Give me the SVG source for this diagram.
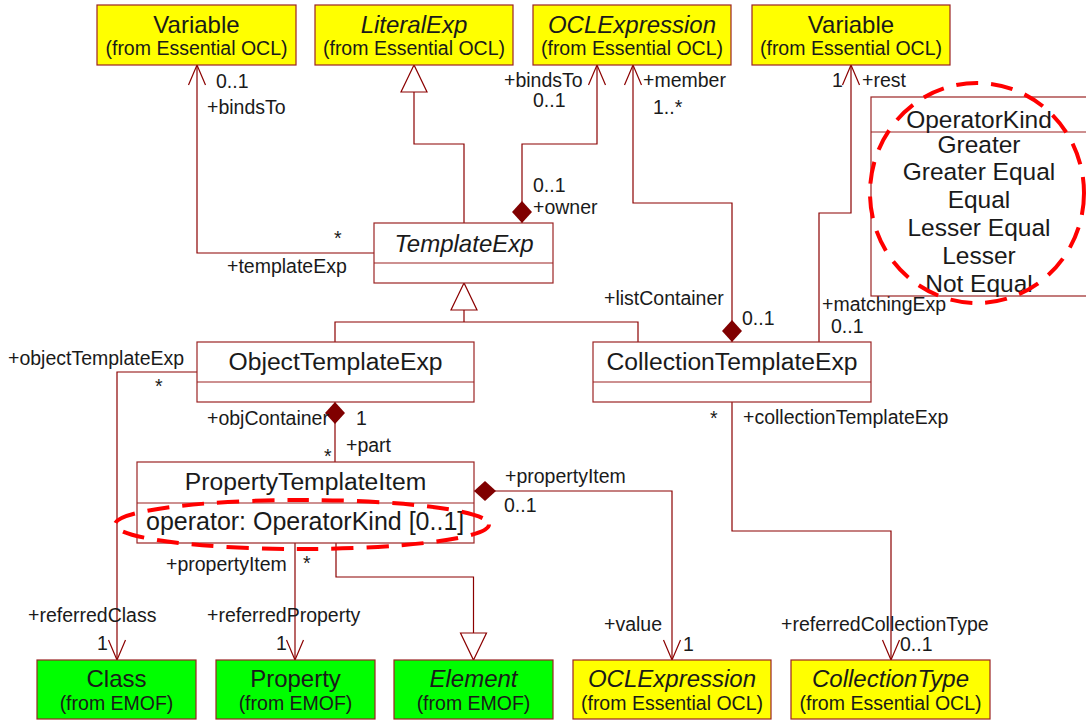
<svg xmlns="http://www.w3.org/2000/svg" width="1086" height="720" viewBox="0 0 1086 720">
<style>
.box{stroke:#9b2323;stroke-width:1.2}
.y{fill:#ffff00}
.g{fill:#00ff00}
.w{fill:#ffffff}
.ln{fill:none;stroke:#8b0000;stroke-width:1.2}
.nm{font-family:"Liberation Sans",Arial,sans-serif;font-size:24px;fill:#1a1a1a;text-anchor:middle}
.cn{font-size:24.7px}
.it{font-style:italic}
.fr{font-size:19.5px}
.lit{font-size:24.5px}
.lb{font-family:"Liberation Sans",Arial,sans-serif;font-size:19.5px;fill:#1a1a1a}
.red{fill:none;stroke:#ff0000;stroke-width:4;stroke-dasharray:22 13}
</style>
<defs>
<marker id="open" markerUnits="userSpaceOnUse" markerWidth="30" markerHeight="30" viewBox="-25 -15 30 30" refX="0" refY="0" orient="auto" overflow="visible">
<path d="M-20,-8.5 L0,0 L-20,8.5" fill="none" stroke="#8b0000" stroke-width="1.2"/>
</marker>
<marker id="tri" markerUnits="userSpaceOnUse" markerWidth="40" markerHeight="40" viewBox="-30 -20 40 40" refX="0" refY="0" orient="auto" overflow="visible">
<path d="M0,0 L-27,-13 L-27,13 Z" fill="#ffffff" stroke="#8b0000" stroke-width="1.2"/>
</marker>
<marker id="dia" markerUnits="userSpaceOnUse" markerWidth="30" markerHeight="30" viewBox="-2 -15 30 30" refX="0" refY="0" orient="auto" overflow="visible">
<path d="M0,0 L11,-10 L22,0 L11,10 Z" fill="#800000"/>
</marker>
</defs>
<rect width="1086" height="720" fill="#ffffff"/>

<g id="connectors">
<path class="ln" d="M375,253 H197 V65" marker-end="url(#open)"/>
<path class="ln" d="M464,223 V144 H414 V65" marker-end="url(#tri)"/>
<path class="ln" d="M522,223 V144 H597 V65" marker-start="url(#dia)" marker-end="url(#open)"/>
<path class="ln" d="M732,342 V203 H633 V65" marker-start="url(#dia)" marker-end="url(#open)"/>
<path class="ln" d="M819,342 V213 H851 V65" marker-end="url(#open)"/>
<path class="ln" d="M335,342 V322 H638 V342"/>
<path class="ln" d="M464,322 V283" marker-end="url(#tri)"/>
<path class="ln" d="M197,372 H117 V660" marker-end="url(#open)"/>
<path class="ln" d="M335,402 V462" marker-start="url(#dia)"/>
<path class="ln" d="M474,491 H672 V660" marker-start="url(#dia)" marker-end="url(#open)"/>
<path class="ln" d="M732,402 V531 H891 V660" marker-end="url(#open)"/>
<path class="ln" d="M295,543 V660" marker-end="url(#open)"/>
<path class="ln" d="M336,543 V577 H473.5 V660" marker-end="url(#tri)"/>
</g>

<g id="labels">
<text class="lb" x="216" y="88">0..1</text>
<text class="lb" x="207" y="114">+bindsTo</text>
<text class="lb" x="334" y="245">*</text>
<text class="lb" x="227" y="273">+templateExp</text>
<text class="lb" x="504" y="87">+bindsTo</text>
<text class="lb" x="533" y="107">0..1</text>
<text class="lb" x="533" y="192">0..1</text>
<text class="lb" x="533" y="214">+owner</text>
<text class="lb" x="643" y="87">+member</text>
<text class="lb" x="653" y="114">1..*</text>
<text class="lb" x="832" y="87">1</text>
<text class="lb" x="862" y="87">+rest</text>
<text class="lb" x="604" y="305">+listContainer</text>
<text class="lb" x="742" y="325">0..1</text>
<text class="lb" x="822" y="311">+matchingExp</text>
<text class="lb" x="831" y="333">0..1</text>
<text class="lb" x="8" y="365">+objectTemplateExp</text>
<text class="lb" x="155" y="393">*</text>
<text class="lb" x="207" y="425">+objContainer</text>
<text class="lb" x="356" y="425">1</text>
<text class="lb" x="346" y="452">+part</text>
<text class="lb" x="324" y="463">*</text>
<text class="lb" x="710" y="425">*</text>
<text class="lb" x="743" y="424">+collectionTemplateExp</text>
<text class="lb" x="505" y="483">+propertyItem</text>
<text class="lb" x="504" y="512">0..1</text>
<text class="lb" x="166" y="571">+propertyItem</text>
<text class="lb" x="303" y="570">*</text>
<text class="lb" x="28" y="622">+referredClass</text>
<text class="lb" x="97" y="650">1</text>
<text class="lb" x="207" y="622">+referredProperty</text>
<text class="lb" x="276" y="650">1</text>
<text class="lb" x="604" y="631">+value</text>
<text class="lb" x="683" y="651">1</text>
<text class="lb" x="781" y="631">+referredCollectionType</text>
<text class="lb" x="900" y="651">0..1</text>
</g>

<g id="variable1">
<rect class="box y" x="97" y="5" width="199" height="60"/>
<text class="nm" x="196.5" y="33">Variable</text>
<text class="nm fr" x="196.5" y="55">(from Essential OCL)</text>
</g>
<g id="literalExp">
<rect class="box y" x="315" y="5" width="198" height="60"/>
<text class="nm it" x="414" y="33">LiteralExp</text>
<text class="nm fr" x="414" y="55">(from Essential OCL)</text>
</g>
<g id="oclExpressionTop">
<rect class="box y" x="533" y="5" width="198" height="60"/>
<text class="nm it" x="632" y="33">OCLExpression</text>
<text class="nm fr" x="632" y="55">(from Essential OCL)</text>
</g>
<g id="variable2">
<rect class="box y" x="752" y="5" width="198" height="60"/>
<text class="nm" x="851" y="33">Variable</text>
<text class="nm fr" x="851" y="55">(from Essential OCL)</text>
</g>

<g id="operatorKind">
<rect class="box w" x="871" y="97" width="230" height="199"/>
<line class="box" x1="871" y1="132" x2="1090" y2="132"/>
<text class="nm lit" x="979" y="128">OperatorKind</text>
<text class="nm lit" x="979" y="153">Greater</text>
<text class="nm lit" x="979" y="180">Greater Equal</text>
<text class="nm lit" x="979" y="208">Equal</text>
<text class="nm lit" x="979" y="236">Lesser Equal</text>
<text class="nm lit" x="979" y="264">Lesser</text>
<text class="nm lit" x="979" y="292">Not Equal</text>
</g>

<g id="templateExp">
<rect class="box w" x="374" y="223" width="179" height="60"/>
<line class="box" x1="374" y1="263" x2="553" y2="263"/>
<text class="nm it" x="464" y="252">TemplateExp</text>
</g>

<g id="objectTemplateExp">
<rect class="box w" x="197" y="342" width="277" height="60"/>
<line class="box" x1="197" y1="382" x2="474" y2="382"/>
<text class="nm cn" x="335.5" y="370">ObjectTemplateExp</text>
</g>

<g id="collectionTemplateExp">
<rect class="box w" x="593" y="342" width="278" height="60"/>
<line class="box" x1="593" y1="382" x2="871" y2="382"/>
<text class="nm cn" x="732" y="370">CollectionTemplateExp</text>
</g>

<g id="propertyTemplateItem">
<rect class="box w" x="137" y="462" width="337" height="81"/>
<line class="box" x1="137" y1="503" x2="474" y2="503"/>
<text class="nm cn" x="305.5" y="490">PropertyTemplateItem</text>
<text class="nm" x="146" y="530" style="text-anchor:start;font-size:25px">operator: OperatorKind [0..1]</text>
</g>

<g id="class">
<rect class="box g" x="37" y="660" width="159" height="59"/>
<text class="nm" x="116.5" y="687">Class</text>
<text class="nm fr" x="116.5" y="710">(from EMOF)</text>
</g>
<g id="property">
<rect class="box g" x="216" y="660" width="159" height="59"/>
<text class="nm" x="295.5" y="687">Property</text>
<text class="nm fr" x="295.5" y="710">(from EMOF)</text>
</g>
<g id="element">
<rect class="box g" x="394" y="660" width="159" height="59"/>
<text class="nm it" x="473.5" y="687">Element</text>
<text class="nm fr" x="473.5" y="710">(from EMOF)</text>
</g>
<g id="oclExpressionBottom">
<rect class="box y" x="573" y="660" width="198" height="59"/>
<text class="nm it" x="672" y="687">OCLExpression</text>
<text class="nm fr" x="672" y="710">(from Essential OCL)</text>
</g>
<g id="collectionType">
<rect class="box y" x="791" y="660" width="199" height="59"/>
<text class="nm it" x="890.5" y="687">CollectionType</text>
<text class="nm fr" x="890.5" y="710">(from Essential OCL)</text>
</g>

<g id="highlights">
<ellipse class="red" cx="977" cy="193" rx="107" ry="110"/>
<ellipse class="red" cx="302" cy="524.5" rx="187" ry="24.5"/>
</g>
</svg>
